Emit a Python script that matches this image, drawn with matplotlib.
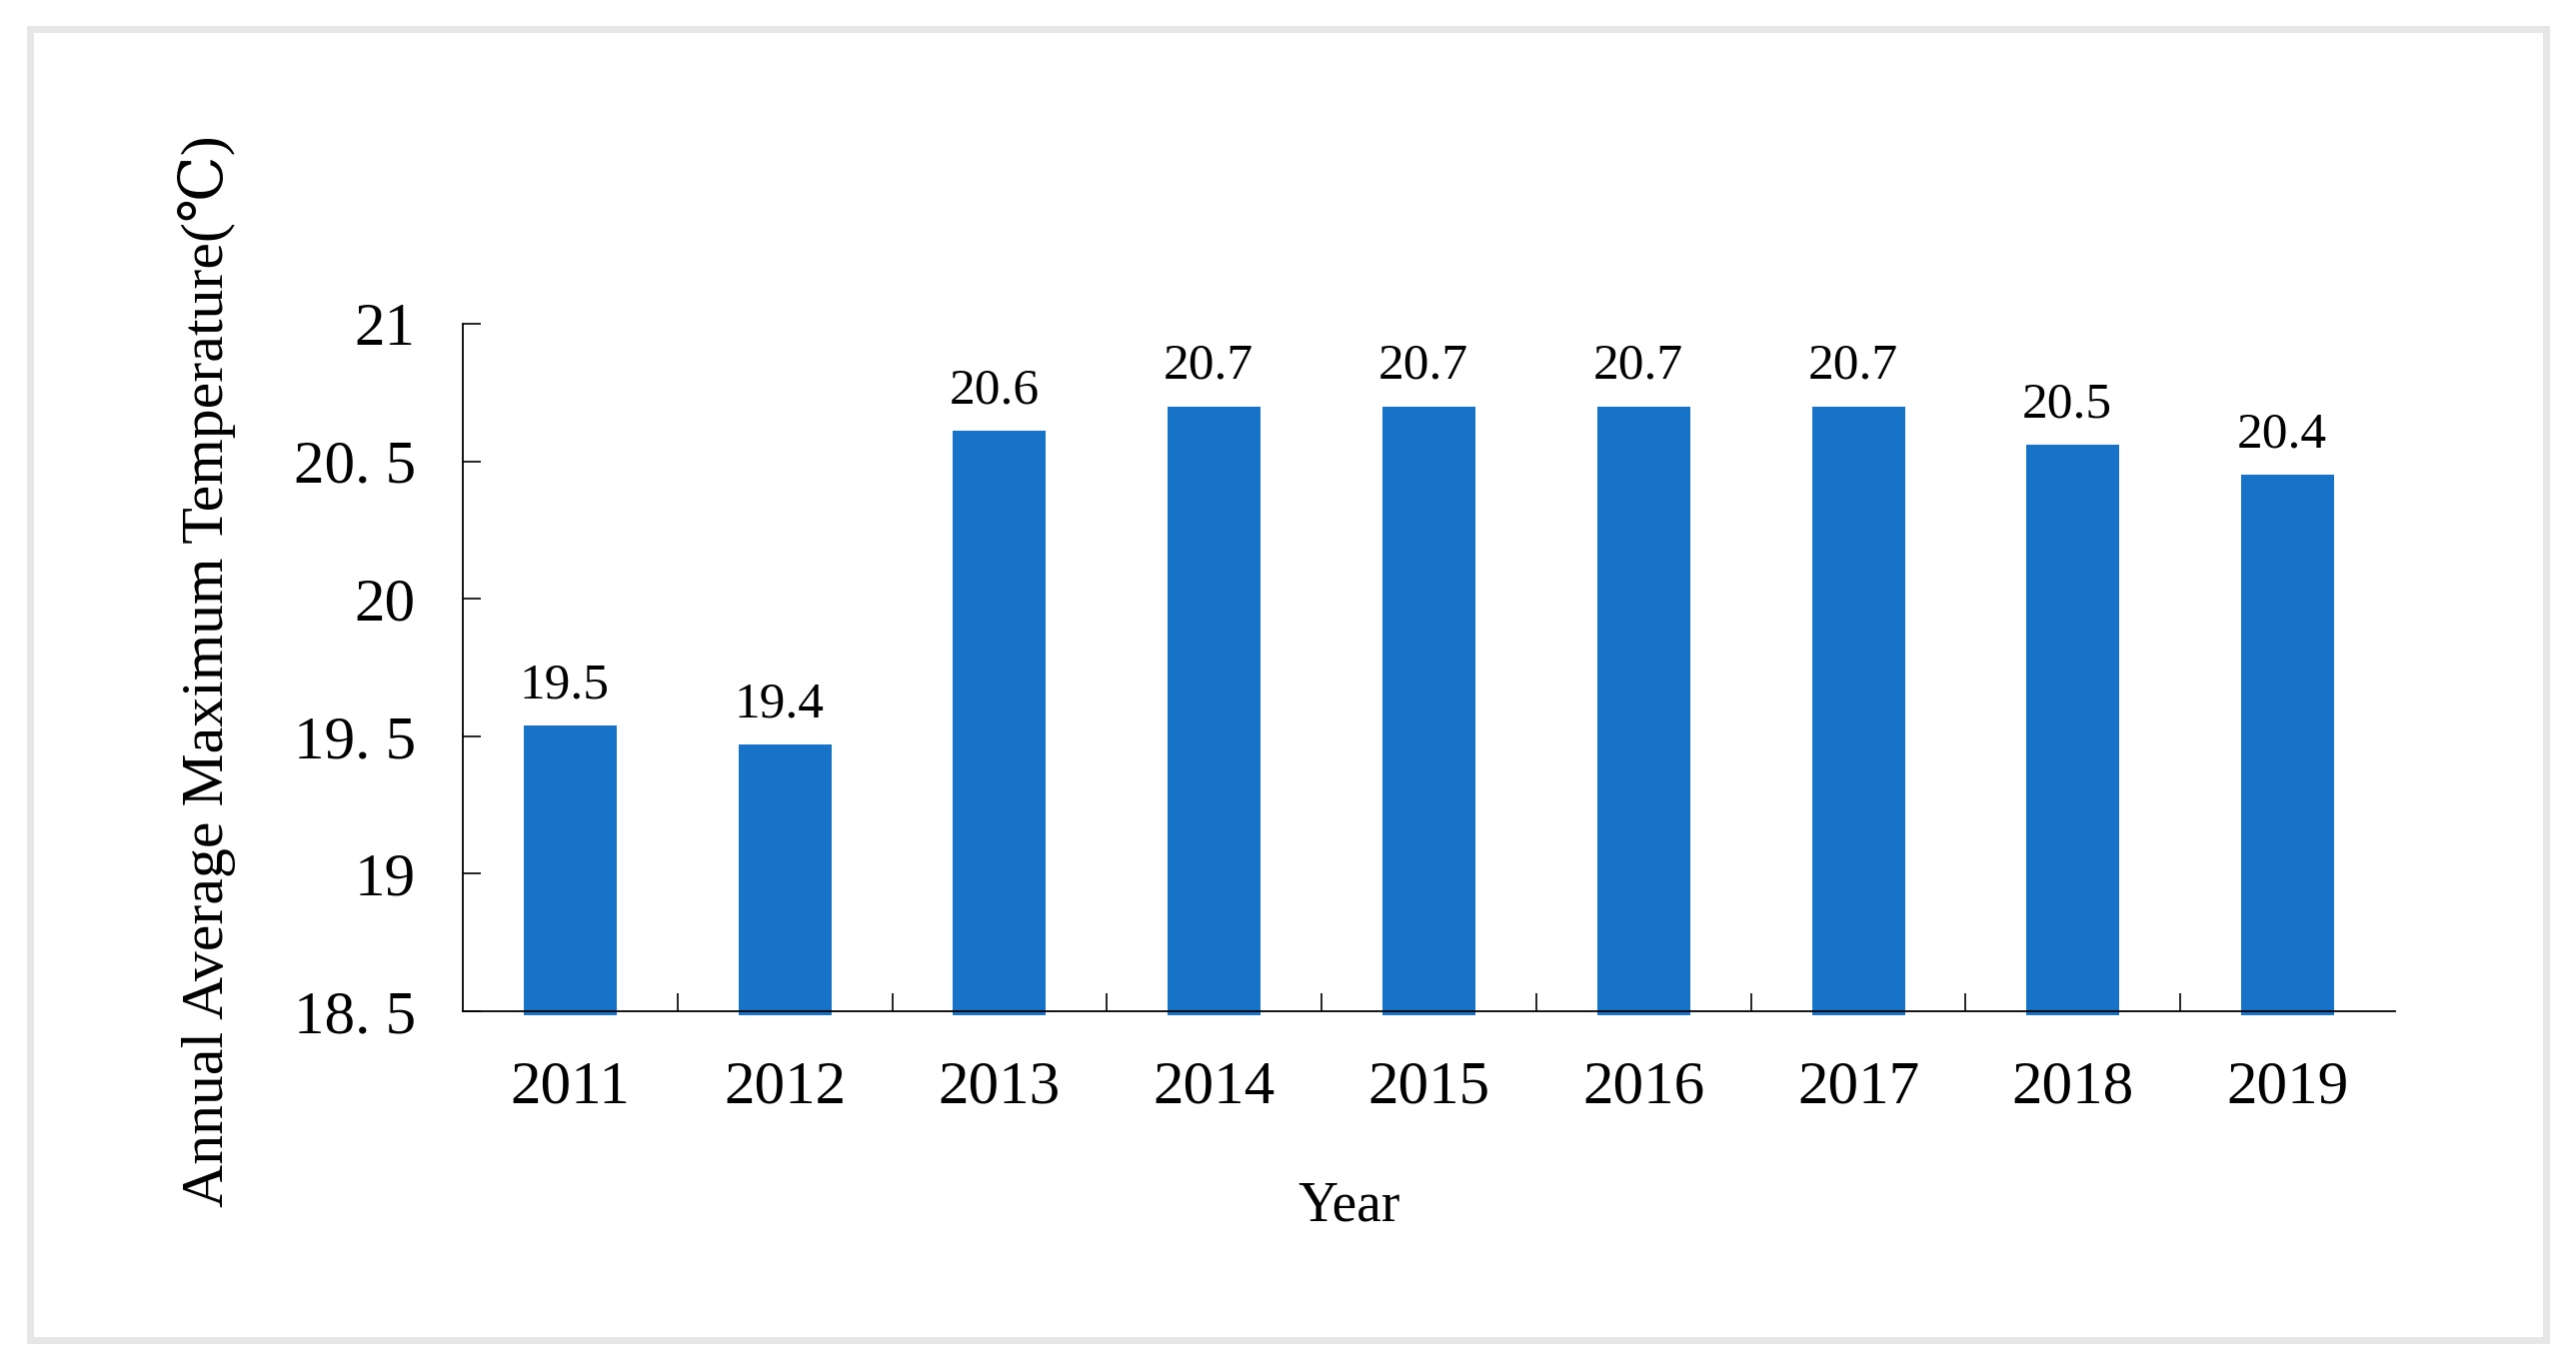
import numpy as np
import matplotlib.pyplot as plt
from matplotlib.patches import Rectangle

years = ['2011', '2012', '2013', '2014', '2015', '2016', '2017', '2018', '2019']
temps = [19.54, 19.47, 20.61, 20.70, 20.70, 20.70, 20.70, 20.56, 20.45]
temp_labels = ['19.5', '19.4', '20.6', '20.7', '20.7', '20.7', '20.7', '20.5', '20.4']
y_ticks = [18.5, 19, 19.5, 20, 20.5, 21]
y_tick_labels = ['18. 5', '19', '19. 5', '20', '20. 5', '21']

plt.rcParams['font.family'] = ['Liberation Serif', 'DejaVu Serif']

W, H = 2577, 1368
fig = plt.figure(figsize=(W / 100, H / 100), dpi=100)

# axes placed in pixel coordinates of the reference
ax = fig.add_axes([463 / W, 1 - 1012 / H, (2396 - 463) / W, (1012 - 324) / H])

x = np.arange(len(years))
base = 18.486  # bars run a hair below the axis line
ax.bar(x, np.array(temps) - base, bottom=base, width=0.433,
       color='#1773c8', clip_on=False, zorder=1)

for xi, v, lbl in zip(x, temps, temp_labels):
    ax.annotate(lbl, (xi, v), xytext=(-4, 20), textcoords='offset points',
                ha='center', va='baseline', fontsize=37)

ax.set_xlim(-0.5, len(years) - 0.5)
ax.set_ylim(18.5, 21)

ax.set_xticks(x)
ax.set_xticklabels(years, fontsize=44)
ax.set_xticks(np.arange(0.5, len(years) - 1, 1), minor=True)
ax.tick_params(axis='x', which='major', length=0, pad=35)
ax.tick_params(axis='x', which='minor', direction='in', length=13, width=1.2)

ax.set_yticks(y_ticks)
ax.set_yticklabels(y_tick_labels, fontsize=44)
ax.tick_params(axis='y', direction='in', length=13, width=1.2, pad=34)

for s in ['top', 'right']:
    ax.spines[s].set_visible(False)
for s in ['left', 'bottom']:
    ax.spines[s].set_linewidth(1.3)

fig.text(207 / W, 1 - 672 / H, 'Annual Average Maximum Temperature(℃)',
         rotation=90, ha='center', va='center', fontsize=43)
fig.text(1350 / W, 1 - 1222 / H, 'Year', ha='center', va='baseline', fontsize=40)

# light grey frame round the whole picture
fig.patches.append(Rectangle((29.5 / W, 1 - 1341 / H), (2546.5 - 29.5) / W, (1341 - 28.5) / H,
                             transform=fig.transFigure, fill=False,
                             edgecolor='#e6e6e6', linewidth=5))

fig.savefig('out.png', dpi=100, facecolor='white')
